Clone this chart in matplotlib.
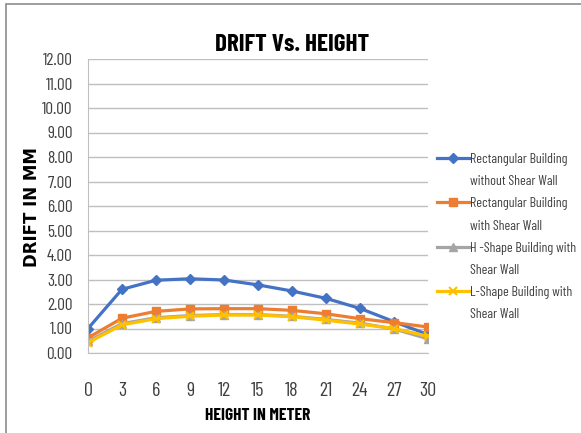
import matplotlib
matplotlib.use('Agg')
import matplotlib.pyplot as plt
from matplotlib.patches import Rectangle
from matplotlib.lines import Line2D

heights = [0, 3, 6, 9, 12, 15, 18, 21, 24, 27, 30]
rect_no_wall = [1.00, 2.60, 2.97, 3.03, 2.98, 2.78, 2.53, 2.23, 1.82, 1.28, 0.75]
rect_wall = [0.62, 1.42, 1.70, 1.80, 1.81, 1.81, 1.74, 1.60, 1.40, 1.24, 1.06]
h_shape = [0.48, 1.20, 1.44, 1.53, 1.57, 1.57, 1.50, 1.37, 1.22, 0.98, 0.58]
l_shape = [0.42, 1.15, 1.40, 1.50, 1.55, 1.55, 1.48, 1.34, 1.18, 1.00, 0.68]
labels = [['Rectangular Building', 'without Shear Wall'],
          ['Rectangular Building', 'with Shear Wall'],
          ['H -Shape Building with', 'Shear Wall'],
          ['L-Shape Building with', 'Shear Wall']]
yticks = [i for i in range(13)]

narrow = ['Barlow Condensed', 'DejaVu Sans']

fig = plt.figure(figsize=(5.81, 4.33), dpi=100)
fig.patches.append(Rectangle((6 / 581, -0.1), 1.2, 1 - 4 / 433 + 0.1, transform=fig.transFigure,
                             fill=False, edgecolor='#8c8c8c', linewidth=1.2))
ax = fig.add_axes([88 / 581, 1 - 353 / 433, (428 - 88) / 581, (353 - 59) / 433])

styles = [('#4472C4', 'D', 5), ('#ED7D31', 's', 6), ('#A5A5A5', '^', 6), ('#FFC000', 'x', 6)]
series = [rect_no_wall, rect_wall, h_shape, l_shape]
handles = []
leg_labels = []
for vals, (c, m, ms), lab in zip(series, styles, labels):
    ln, = ax.plot(heights, vals, color=c, marker=m, markersize=ms, linewidth=2.3,
                  markeredgewidth=1.5 if m == 'x' else 1)
    # second line of each label gets an empty handle, like excel's wrapped legend
    handles += [ln, Line2D([], [], linestyle='none')]
    leg_labels += lab

ax.set_xlim(0, 30)
ax.set_ylim(0, 12)
ax.set_yticks(yticks)
ax.set_yticklabels(['%.2f' % v for v in yticks], family=narrow, fontsize=12.5, color='#404040')
ax.set_xticks(heights)
ax.set_xticklabels([str(h) for h in heights], family=narrow, fontsize=14.5, color='#404040')
ax.tick_params(length=0)
ax.tick_params(axis='y', pad=11)
ax.tick_params(axis='x', pad=21)
ax.grid(axis='y', color='#bfbfbf', linewidth=1)
for s in ['top', 'right']:
    ax.spines[s].set_visible(False)
ax.spines['left'].set_color('#bfbfbf')
ax.spines['bottom'].set_color('#bfbfbf')
ax.set_axisbelow(True)

fig.text(292 / 581, 1 - 45 / 433, 'DRIFT Vs. HEIGHT', family=narrow, fontweight='bold',
         fontsize=18, ha='center', va='center')
fig.text(258 / 581, 1 - 416 / 433, 'HEIGHT IN METER', family=narrow, fontweight='bold',
         fontsize=12.5, ha='center', va='center')
fig.text(32 / 581, 1 - 207 / 433, 'DRIFT IN MM', fontweight='bold', fontsize=12,
         rotation=90, ha='center', va='center')

leg = fig.legend(handles, leg_labels, loc='upper left', bbox_to_anchor=(437 / 581, 1 - 153 / 433),
                 frameon=False, prop={'family': narrow, 'size': 10}, handlelength=2.3,
                 handletextpad=0.1, labelspacing=0.66, borderaxespad=0, borderpad=0)
for t in leg.get_texts():
    t.set_color('#404040')

fig.savefig('out.png', dpi=100)
